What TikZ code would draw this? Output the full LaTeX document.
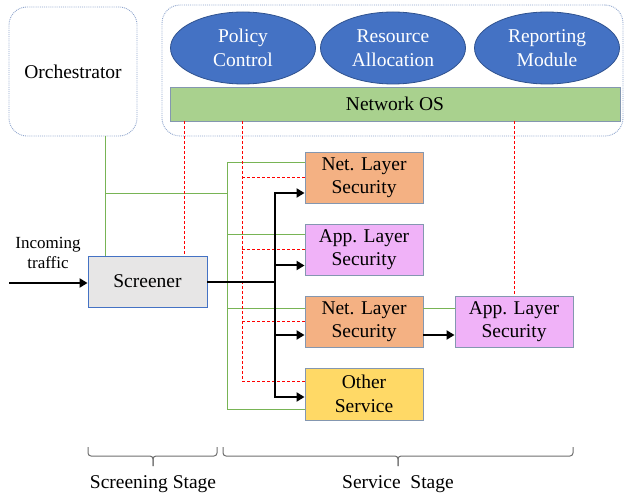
\documentclass[tikz,border=0pt]{standalone}
\usepackage{fontspec}
\setmainfont{Liberation Serif}
\usetikzlibrary{arrows.meta,shapes.geometric}

\begin{document}
\begin{tikzpicture}[x=1pt,y=-1pt,
  texte/.style={font=\fontsize{19.5}{23.5}\selectfont, align=center},
  boite/.style={texte, draw=bordure, line width=0.9pt, minimum width=118pt, minimum height=51pt, inner sep=2pt},
  bulle/.style={texte, ellipse, draw=bleufonce, fill=bleuell, text=white, line width=0.8pt, minimum width=145pt, minimum height=72pt, inner sep=0pt},
  cadre/.style={texte, draw=pointille, densely dotted, line width=0.9pt, rounded corners=18pt},
  fleche/.style={line width=2pt, -{Triangle[length=8pt,width=9pt]}},
  vert/.style={draw=vertligne, line width=1pt},
  rouge/.style={draw=red, dash pattern=on 3pt off 2pt, line width=1pt},
  accolade/.style={draw=gray, line width=1pt, rounded corners=3pt}]
  % Définir les couleurs du schéma
  \definecolor{bleuell}{RGB}{68,114,196}
  \definecolor{bleufonce}{RGB}{47,82,143}
  \definecolor{bordure}{RGB}{132,151,176}
  \definecolor{pointille}{RGB}{143,165,205}
  \definecolor{vertnos}{RGB}{169,209,142}
  \definecolor{grisscr}{RGB}{231,230,230}
  \definecolor{orangenls}{RGB}{244,177,131}
  \definecolor{roseals}{RGB}{240,178,248}
  \definecolor{jauneoth}{RGB}{255,217,102}
  \definecolor{vertligne}{RGB}{120,180,85}
  \definecolor{gray}{RGB}{110,110,110}

  \useasboundingbox (0,0) rectangle (626,494);

  % Orchestrateur et plan de contrôle
  \node[cadre, minimum width=128pt, minimum height=129pt] (orch) at (73,71.5) {Orchestrator};
  \node[cadre, minimum width=461pt, minimum height=131pt] (cont) at (392.5,70.5) {};
  \node[bulle] (pol) at (243,48) {Policy\\Control};
  \node[bulle] (res) at (393,48) {Resource\\Allocation};
  \node[bulle] (rep) at (547,48) {Reporting\\Module};
  \node[boite, fill=vertnos, minimum width=450pt, minimum height=34pt] (nos) at (395,104) {Network OS};

  % Le filtre et les services
  \node[boite, draw=bleuell, fill=grisscr, minimum width=119pt] (scr) at (147.5,281.5) {Screener};
  \node[boite, fill=orangenls] (nls1) at (364,177.5) {Net. Layer\\Security};
  \node[boite, fill=roseals] (als1) at (364,249.5) {App. Layer\\Security};
  \node[boite, fill=orangenls] (nls2) at (364,321.5) {Net. Layer\\Security};
  \node[boite, fill=jauneoth, minimum height=52pt] (oth) at (364,394) {Other\\Service};
  \node[boite, fill=roseals] (als2) at (514,321.5) {App. Layer\\Security};

  % Trafic entrant
  \coordinate (entree) at (9,283);
  \node[texte, font=\fontsize{17}{20.5}\selectfont] (trafic) at (48,253) {Incoming\\traffic};
  \draw[fleche] (entree) -- (scr.west |- entree);

  % Lignes vertes (orchestrateur)
  \coordinate (busvert) at (227,194);
  \draw[vert] ([xshift=32pt]orch.south) -- ([xshift=32pt]orch.south |- scr.north);
  \draw[vert] ([xshift=32pt]orch.south |- busvert) -- (busvert);
  \draw[vert] (busvert) |- ([yshift=14.5pt]nls1.west);
  \draw[vert] (busvert) |- ([yshift=14.5pt]als1.west);
  \draw[vert] (busvert) |- ([yshift=13pt]nls2.west);
  \draw[vert] (busvert) |- ([yshift=-15pt]oth.west);
  \draw[vert] ([yshift=13pt]nls2.east) -- ([yshift=13pt]als2.west);

  % Lignes rouges pointillées (Network OS)
  \coordinate (rougeA) at (184,0);
  \coordinate (rougeB) at (242,0);
  \draw[rouge] (nos.south -| rougeA) -- (scr.north -| rougeA);
  \draw[rouge] (nos.south -| rougeB) |- ([yshift=13pt]oth.west);
  \foreach \b in {nls1,als1,nls2}
    \draw[rouge] (rougeB |- \b.west) -- (\b.west);
  \draw[rouge] (nos.south -| als2.north) -- (als2.north);

  % Flèches noires
  \coordinate (split) at (275,281.5);
  \draw[line width=2pt] (scr.east) -- (split);
  \draw[fleche] (split) |- ([yshift=-15.5pt]nls1.west);
  \draw[fleche] (split) |- ([yshift=-16pt]als1.west);
  \draw[fleche] (split) |- ([yshift=-13.5pt]nls2.west);
  \draw[fleche] (split) |- ([yshift=-3pt]oth.west);
  \draw[fleche] ([yshift=-13.5pt]nls2.east) -- ([yshift=-13.5pt]als2.west);

  % Accolades des étapes
  \draw[accolade] (88,447) |- (153,456) -- (153,466);
  \draw[accolade] (217,447) |- (153,456) -- (153,466);
  \draw[accolade] (223,447) |- (398,456) -- (398,466);
  \draw[accolade] (573,447) |- (398,456) -- (398,466);
  \node[texte] (screening) at (153,484) {Screening Stage};
  \node[texte] (service) at (398,484) {Service\ \ Stage};
\end{tikzpicture}
\end{document}
